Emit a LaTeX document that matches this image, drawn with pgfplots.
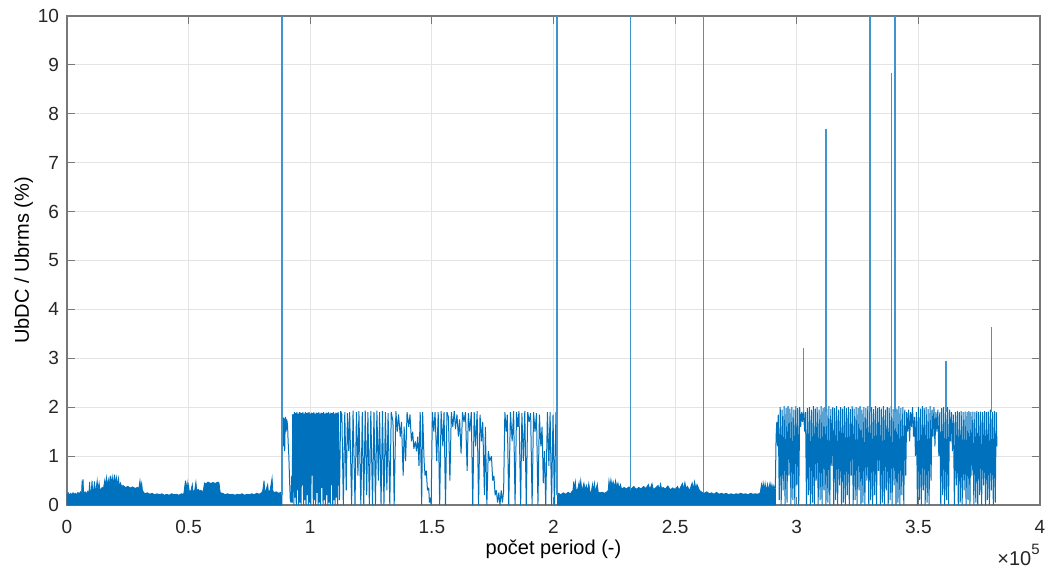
\documentclass[border=0pt]{standalone}
\usepackage{pgfplots}
\pgfplotsset{compat=1.18}
\usepackage{fontspec}
\setmainfont{Liberation Sans}
\definecolor{mblue}{RGB}{0,114,189}
\definecolor{axgray}{RGB}{120,120,120}
\definecolor{txtgray}{RGB}{38,38,38}
\definecolor{gridgray}{RGB}{228,228,228}
\pgfplotsset{
  sig/.style={mblue, no markers, line width=0.5pt, line join=bevel},
  sigD/.style={mblue, no markers, line width=0.5pt, line join=bevel},
  sigfill/.style={mblue, fill=mblue, no markers, line width=0.4pt},
  spike/.style={mblue!75!white, no markers, line width=0.8pt},
}
\begin{document}
\begin{tikzpicture}
\begin{axis}[
  at={(0,0)}, anchor=south west,
  scale only axis, width=486.5pt, height=244.5pt,
  xmin=0, xmax=4, ymin=0, ymax=10,
  xtick={0,0.5,1,1.5,2,2.5,3,3.5,4},
  xticklabels={0,0.5,1,1.5,2,2.5,3,3.5,4},
  ytick={0,1,2,3,4,5,6,7,8,9,10},
  grid=major, major grid style={gridgray, line width=0.5pt},
  axis line style={axgray, line width=0.6pt},
  tick style={axgray, line width=0.6pt},
  tick align=inside, major tick length=4pt,
  xtick pos=both, ytick pos=both,
  /pgf/number format/assume math mode=true,
  ticklabel style={font=\fontsize{9.5}{11}\selectfont, text=txtgray},
  xticklabel style={anchor=base, yshift=-14pt},
  yticklabel style={xshift=-0.5pt},
  xlabel={počet period (-)},
  ylabel={UbDC / Ubrms (\%)},
  label style={font=\fontsize{11.5}{13}\selectfont, text=txtgray},
  every axis x label/.style={at={(axis description cs:0.5,0)}, anchor=base, yshift=-24.5pt},
  every axis y label/.style={at={(axis description cs:0,0.5)}, rotate=90, anchor=base, yshift=19pt},
]
% segment A: low level, dense filled
\addplot[sigfill] coordinates {
(0,0.22) (0.005,0.25) (0.01,0.2) (0.015,0.24) (0.02,0.21) (0.025,0.25) (0.03,0.22) (0.035,0.24) (0.04,0.21) (0.045,0.26) (0.05,0.22) (0.055,0.27) (0.06,0.23) (0.062,0.5) (0.064,0.26) (0.066,0.53) (0.068,0.25) (0.075,0.27) (0.08,0.23) (0.085,0.28) (0.09,0.24) (0.093,0.47) (0.095,0.28) (0.1,0.3) (0.103,0.5) (0.105,0.3) (0.11,0.32) (0.113,0.48) (0.116,0.3) (0.12,0.34) (0.124,0.5) (0.127,0.32) (0.132,0.45) (0.135,0.3) (0.14,0.33) (0.145,0.36) (0.15,0.34) (0.155,0.5) (0.158,0.38) (0.162,0.56) (0.165,0.4) (0.17,0.52) (0.173,0.38) (0.178,0.6) (0.181,0.42) (0.186,0.58) (0.19,0.4) (0.195,0.62) (0.198,0.44) (0.203,0.57) (0.207,0.4) (0.212,0.55) (0.215,0.38) (0.22,0.45) (0.225,0.37) (0.23,0.4) (0.24,0.36) (0.25,0.38) (0.26,0.35) (0.27,0.37) (0.28,0.34) (0.29,0.36) (0.295,0.33) (0.3,0.5) (0.303,0.35) (0.307,0.45) (0.31,0.3) (0.315,0.26) (0.32,0.23) (0.33,0.25) (0.34,0.22) (0.35,0.24) (0.36,0.21) (0.37,0.23) (0.38,0.21) (0.39,0.23) (0.40,0.2) (0.41,0.22) (0.42,0.2) (0.43,0.23) (0.44,0.21) (0.45,0.22) (0.46,0.2) (0.47,0.23) (0.48,0.22) (0.487,0.5) (0.49,0.3) (0.494,0.45) (0.497,0.28) (0.5,0.4) (0.503,0.26) (0.51,0.3) (0.515,0.42) (0.518,0.27) (0.525,0.3) (0.53,0.47) (0.533,0.3) (0.54,0.32) (0.545,0.28) (0.55,0.3) (0.56,0.27) (0.565,0.45) (0.57,0.43) (0.58,0.47) (0.59,0.44) (0.6,0.46) (0.61,0.44) (0.62,0.47) (0.625,0.45) (0.63,0.25) (0.64,0.24) (0.65,0.21) (0.66,0.23) (0.67,0.21) (0.68,0.22) (0.69,0.2) (0.7,0.22) (0.71,0.21) (0.72,0.23) (0.73,0.2) (0.74,0.22) (0.75,0.21) (0.76,0.23) (0.77,0.21) (0.78,0.24) (0.79,0.22) (0.8,0.25) (0.805,0.3) (0.81,0.5) (0.813,0.28) (0.818,0.3) (0.825,0.42) (0.828,0.27) (0.835,0.3) (0.843,0.55) (0.846,0.3) (0.85,0.25) (0.86,0.27) (0.87,0.24) (0.88,0.26) (0.8835,0.22)
} \closedcycle;
% segment B: oscillating block
\addplot[sig] coordinates {
(0.8845,1.7) (0.887,1.8) (0.889,1.75) (0.891,1.2) (0.893,1.78) (0.895,1.1) (0.897,1.7) (0.899,1.8) (0.901,1.5) (0.903,1.75) (0.905,1.7) (0.907,1.6) (0.909,1.3) (0.912,1.0) (0.915,0.5) (0.918,0.1) (0.921,0.05) (0.924,0.6) (0.926,0.05) (0.928,1.85)
(0.930,1.85) (0.9325,0.0) (0.935,1.9) (0.9375,0.15) (0.940,1.88) (0.9425,0.0) (0.945,1.9) (0.9475,0.3) (0.950,1.87) (0.9525,0.0) (0.955,1.9) (0.9575,0.05) (0.960,1.89) (0.9625,0.0) (0.965,1.88) (0.9675,0.4) (0.970,1.9) (0.9725,0.0) (0.975,1.87) (0.9775,0.1) (0.980,1.9) (0.9825,0.0) (0.985,1.88) (0.9875,0.2) (0.990,1.89) (0.9925,0.0) (0.995,1.9) (0.9975,0.05) (1.000,1.87) (1.0025,0.0) (1.005,1.89) (1.0075,0.6) (1.010,1.88) (1.0125,0.0) (1.015,1.9) (1.0175,0.1) (1.020,1.87) (1.0225,0.0) (1.025,1.89) (1.0275,0.25) (1.030,1.88) (1.0325,0.0) (1.035,1.9) (1.0375,0.05) (1.040,1.87) (1.0425,0.0) (1.045,1.89) (1.0475,0.35) (1.050,1.88) (1.0525,0.0) (1.055,1.9) (1.0575,0.1) (1.060,1.87) (1.0625,0.0) (1.065,1.89) (1.0675,0.2) (1.070,1.88) (1.0725,0.0) (1.075,1.9) (1.0775,0.05) (1.080,1.87) (1.0825,0.0) (1.085,1.89) (1.0875,0.4) (1.090,1.88) (1.0925,0.0) (1.095,1.9) (1.0975,0.1) (1.100,1.87) (1.1025,0.0) (1.105,1.89) (1.1075,0.15) (1.110,1.88) (1.1125,0.0) (1.115,1.9)
(1.12,0.1) (1.125,1.92) (1.13,1.85) (1.136,0.0) (1.142,1.9) (1.148,0.3) (1.153,1.88) (1.158,1.1) (1.162,1.9) (1.170,0.0) (1.176,1.93) (1.184,0.0) (1.19,1.9) (1.196,0.6) (1.20,1.92) (1.208,0.0) (1.214,1.9) (1.220,0.0) (1.226,1.93) (1.232,0.2) (1.237,1.9) (1.243,0.0) (1.249,1.92) (1.256,0.0) (1.262,1.9) (1.268,0.0) (1.274,1.93) (1.28,0.5) (1.285,1.9) (1.291,0.0) (1.297,1.92) (1.303,0.0) (1.309,1.9) (1.315,0.3) (1.32,1.88) (1.327,0.0) (1.333,1.9) (1.34,1.7) (1.345,0.0) (1.352,1.92) (1.358,1.5) (1.363,1.85) (1.370,1.4) (1.375,1.7) (1.382,0.6) (1.386,1.6) (1.392,0.9) (1.398,1.9) (1.405,1.6) (1.41,1.85) (1.416,1.3) (1.421,1.5) (1.426,1.15) (1.432,1.3) (1.437,1.1) (1.442,1.4) (1.447,0.8) (1.452,1.9) (1.458,0.0) (1.462,1.9) (1.468,0.9) (1.472,0.6) (1.477,0.7) (1.482,0.3) (1.487,0.35) (1.49,0.05) (1.494,0.15) (1.497,0.0) (1.502,1.9) (1.508,1.5) (1.513,1.9) (1.52,0.9) (1.526,1.9) (1.532,0.0) (1.538,1.92) (1.545,1.2) (1.55,1.9) (1.556,0.0) (1.562,1.9) (1.568,1.8) (1.574,0.5) (1.58,1.9) (1.586,1.6) (1.592,1.92) (1.597,1.55) (1.603,1.85) (1.609,1.4) (1.614,1.75) (1.62,1.05) (1.626,1.9) (1.632,1.7) (1.638,1.9) (1.645,0.7) (1.65,1.88) (1.656,1.5) (1.662,1.9) (1.668,0.0) (1.674,1.9) (1.68,1.2) (1.686,1.92) (1.692,0.0) (1.698,1.85) (1.704,1.3) (1.709,1.7) (1.716,0.2) (1.72,1.6) (1.726,0.0) (1.732,1.1) (1.738,0.9) (1.745,1.0) (1.75,0.5) (1.755,0.6) (1.76,0.2) (1.765,0.3) (1.77,0.05) (1.775,0.25) (1.78,0.0) (1.785,0.3) (1.79,0.05) (1.795,0.3) (1.80,1.9) (1.806,1.5) (1.81,1.85) (1.816,0.0) (1.823,1.9) (1.83,1.3) (1.836,1.92) (1.842,0.0) (1.848,1.9) (1.853,1.6) (1.858,1.92) (1.865,0.0) (1.87,1.88) (1.876,0.9) (1.882,1.92) (1.888,0.0) (1.894,1.9) (1.9,1.7) (1.906,1.88) (1.912,0.0) (1.918,1.9) (1.924,1.5) (1.93,1.88) (1.936,0.0) (1.942,1.85) (1.948,1.2) (1.953,1.6) (1.958,0.45) (1.963,1.1) (1.968,0.0) (1.975,1.9) (1.981,0.8) (1.986,1.9) (1.992,0.0) (1.998,1.85) (2.004,0.0) (2.01,1.9) (2.013,1.8) (2.015,0.2)
};
% segment C: low level, dense filled
\addplot[sigfill] coordinates {
(2.017,0.22) (2.02,0.24) (2.03,0.21) (2.04,0.25) (2.05,0.22) (2.06,0.26) (2.07,0.23) (2.075,0.27) (2.08,0.3) (2.083,0.48) (2.086,0.3) (2.09,0.47) (2.093,0.3) (2.1,0.33) (2.105,0.46) (2.108,0.3) (2.112,0.5) (2.116,0.32) (2.12,0.35) (2.125,0.45) (2.13,0.3) (2.135,0.4) (2.14,0.28) (2.145,0.44) (2.15,0.27) (2.155,0.25) (2.16,0.42) (2.163,0.28) (2.168,0.45) (2.172,0.27) (2.18,0.43) (2.184,0.26) (2.19,0.25) (2.2,0.26) (2.21,0.24) (2.22,0.27) (2.225,0.3) (2.228,0.5) (2.232,0.35) (2.236,0.52) (2.24,0.38) (2.245,0.48) (2.25,0.36) (2.255,0.5) (2.26,0.37) (2.265,0.45) (2.27,0.33) (2.275,0.42) (2.28,0.32) (2.29,0.36) (2.3,0.33) (2.31,0.37) (2.32,0.33) (2.33,0.38) (2.34,0.32) (2.35,0.36) (2.36,0.33) (2.37,0.38) (2.38,0.34) (2.39,0.42) (2.395,0.33) (2.4,0.37) (2.405,0.44) (2.41,0.32) (2.42,0.35) (2.43,0.4) (2.435,0.31) (2.44,0.43) (2.445,0.32) (2.45,0.36) (2.46,0.33) (2.47,0.39) (2.48,0.31) (2.49,0.35) (2.5,0.32) (2.51,0.38) (2.515,0.31) (2.52,0.34) (2.53,0.44) (2.535,0.32) (2.54,0.46) (2.545,0.33) (2.55,0.38) (2.56,0.3) (2.57,0.45) (2.575,0.32) (2.58,0.48) (2.585,0.33) (2.59,0.42) (2.6,0.3) (2.61,0.26) (2.62,0.24) (2.63,0.27) (2.64,0.23) (2.65,0.25) (2.66,0.22) (2.67,0.26) (2.68,0.22) (2.69,0.24) (2.7,0.22) (2.71,0.24) (2.72,0.21) (2.73,0.23) (2.74,0.21) (2.75,0.23) (2.76,0.22) (2.77,0.24) (2.78,0.22) (2.79,0.23) (2.8,0.21) (2.81,0.24) (2.82,0.22) (2.83,0.23) (2.84,0.22) (2.85,0.25) (2.855,0.42) (2.858,0.28) (2.862,0.45) (2.866,0.3) (2.87,0.44) (2.874,0.28) (2.88,0.43) (2.884,0.3) (2.89,0.45) (2.894,0.32) (2.898,0.42) (2.902,0.3) (2.906,0.4) (2.91,0.33) (2.912,0.33)
} \closedcycle;
% segment D: oscillating block
\addplot[sigD] coordinates {
(2.912,0.35) (2.915,1.4) (2.918,1.7) (2.921,1.2) (2.924,1.85)
(2.928,0.1) (2.932,2.0) (2.936,0.0) (2.940,1.95) (2.944,0.3) (2.948,2.02) (2.952,0.0) (2.956,1.98) (2.960,0.05) (2.964,2.02) (2.968,0.6) (2.972,1.97) (2.976,0.0) (2.980,2.0) (2.984,0.1) (2.988,1.95) (2.992,0.0) (2.996,2.02) (3.000,0.4) (3.004,1.98) (3.008,0.0) (3.012,2.0)
(3.016,1.6) (3.020,1.9) (3.024,1.7) (3.028,1.95) (3.032,1.5) (3.036,1.9)
(3.040,0.0) (3.044,1.98) (3.048,0.2) (3.052,2.0) (3.056,0.0) (3.060,1.95) (3.064,0.05) (3.068,2.02) (3.072,0.0) (3.076,1.97) (3.080,0.5) (3.084,2.0) (3.088,0.0) (3.092,1.95) (3.096,0.1) (3.100,2.02) (3.104,0.0) (3.108,1.98) (3.112,0.3) (3.116,2.0) (3.120,0.0) (3.124,1.97) (3.128,0.05) (3.132,2.02) (3.136,0.0) (3.140,1.96) (3.144,0.8) (3.148,2.0) (3.152,0.0) (3.156,1.98) (3.160,0.1) (3.164,2.02) (3.168,0.0) (3.172,1.95) (3.176,0.4) (3.180,2.0) (3.184,0.0) (3.188,1.97) (3.192,0.05) (3.196,2.02) (3.200,0.0) (3.204,1.98) (3.208,0.2) (3.212,2.0) (3.216,0.0) (3.220,1.96) (3.224,0.6) (3.228,2.02) (3.232,0.0) (3.236,1.97) (3.240,0.1) (3.244,2.0) (3.248,0.0) (3.252,1.98) (3.256,0.3) (3.260,2.02) (3.264,0.0) (3.268,1.95) (3.272,0.05) (3.276,2.0) (3.280,0.0) (3.284,1.98) (3.288,0.5) (3.292,2.02) (3.296,0.0) (3.300,1.97) (3.304,0.1) (3.308,2.0) (3.312,0.0) (3.316,1.96) (3.320,0.2) (3.324,2.02) (3.328,0.0) (3.332,1.98) (3.336,0.7) (3.340,2.0) (3.344,0.0) (3.348,1.97) (3.352,0.05) (3.356,2.02) (3.360,0.0) (3.364,1.95) (3.368,0.3) (3.372,2.0) (3.376,0.0) (3.380,1.98) (3.384,0.1) (3.388,2.02) (3.392,0.0) (3.396,1.96) (3.400,0.4) (3.404,2.0) (3.408,0.0) (3.412,1.97) (3.416,0.05) (3.420,2.02) (3.424,0.0) (3.428,1.98) (3.432,0.2) (3.436,2.0) (3.440,0.0) (3.444,1.95) (3.448,0.6)
(3.452,1.9) (3.456,1.5) (3.460,1.95) (3.464,1.3) (3.468,1.9) (3.472,1.6) (3.476,2.0) (3.480,1.4) (3.484,1.8) (3.488,1.0) (3.492,1.9)
(3.496,0.0) (3.500,2.0) (3.504,0.1) (3.508,1.97) (3.512,0.0) (3.516,2.02) (3.520,0.3) (3.524,1.98) (3.528,0.0) (3.532,2.0) (3.536,0.05) (3.540,1.96) (3.544,0.0) (3.548,2.02) (3.552,0.5) (3.556,1.95)
(3.560,1.4) (3.564,2.0) (3.568,1.2) (3.572,1.9) (3.576,1.5) (3.580,1.95) (3.584,1.0) (3.588,1.9)
(3.592,0.0) (3.596,1.98) (3.600,0.2) (3.604,2.0) (3.608,0.0) (3.612,1.97) (3.616,0.1) (3.620,2.0) (3.624,0.0) (3.628,1.95) (3.632,1.3) (3.636,1.9) (3.640,1.1) (3.644,1.85)
(3.648,0.0) (3.652,1.9) (3.656,0.4) (3.660,1.92) (3.664,0.0) (3.668,1.9) (3.672,0.05) (3.676,1.92) (3.680,0.0) (3.684,1.9) (3.688,0.3) (3.692,1.91) (3.696,0.0) (3.700,1.9) (3.704,0.1) (3.708,1.92) (3.712,0.0) (3.716,1.9) (3.720,0.6) (3.724,1.91) (3.728,0.0) (3.732,1.9) (3.736,0.05) (3.740,1.92) (3.744,0.0) (3.748,1.9) (3.752,0.2) (3.756,1.91) (3.760,0.0) (3.764,1.9) (3.768,0.4) (3.772,1.92) (3.776,0.0) (3.780,1.9) (3.784,0.1) (3.788,1.91) (3.792,0.0) (3.796,1.95) (3.800,0.3) (3.804,1.9) (3.808,0.0) (3.812,1.92) (3.816,0.05) (3.820,1.9) (3.823,1.2)
};
% isolated spikes
\addplot[spike] coordinates {(0.884,0.2) (0.884,10)};
\addplot[spike] coordinates {(2.015,0.2) (2.015,10)};
\addplot[spike] coordinates {(2.317,0.3) (2.317,10)};
\addplot[spike] coordinates {(2.616,0.25) (2.616,10)};
\addplot[spike] coordinates {(3.027,1.9) (3.027,3.21)};
\addplot[spike] coordinates {(3.119,1.9) (3.119,7.69)};
\addplot[spike] coordinates {(3.302,1.9) (3.302,10)};
\addplot[spike] coordinates {(3.389,1.9) (3.389,8.84)};
\addplot[spike] coordinates {(3.402,1.9) (3.402,10)};
\addplot[spike] coordinates {(3.404,1.9) (3.404,10)};
\addplot[spike] coordinates {(3.614,1.9) (3.614,2.95)};
\addplot[spike] coordinates {(3.801,1.9) (3.801,3.63)};
\end{axis}
\node[anchor=base east, inner sep=0pt, text=txtgray, font=\fontsize{10}{11}\selectfont] at (486.5pt,-30pt) {×10\raisebox{0.55em}{\fontsize{7.5}{8}\selectfont 5}};
\pgfresetboundingbox
\path[use as bounding box] (-33.5pt,-33.5pt) rectangle (492.5pt,252.5pt);
\end{tikzpicture}
\end{document}
